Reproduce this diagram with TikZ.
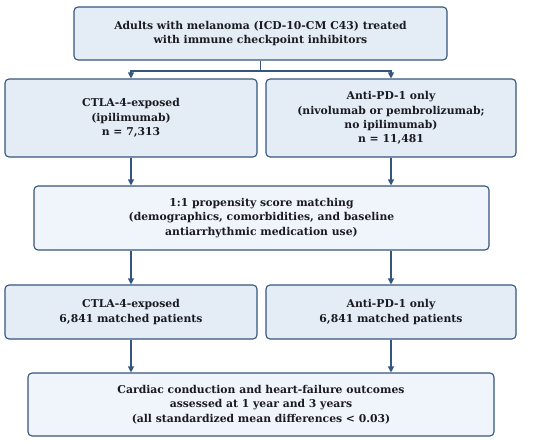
\documentclass[tikz,border=0pt]{standalone}
\usepackage{fontspec}
\setmainfont{DejaVu Serif}
\usetikzlibrary{arrows.meta}
\definecolor{edgeblue}{HTML}{34557E}
\definecolor{boxfill}{HTML}{E4ECF6}
\definecolor{lightfill}{HTML}{F0F5FB}
\definecolor{txt}{HTML}{1A1A20}
\tikzset{
  flowbox/.style={draw=edgeblue, line width=1.1pt, rounded corners=4pt, fill=boxfill,
    align=center, font=\fontsize{10.8}{14.4}\selectfont\bfseries, text=txt, inner sep=0pt},
  arr/.style={draw=edgeblue, line width=1.1pt, -{Triangle[width=6pt,length=6pt]}},
  ln/.style={draw=edgeblue, line width=1.1pt}
}
\begin{document}
\begin{tikzpicture}[x=1pt,y=-1pt]
\useasboundingbox (0,0) rectangle (550,442);
\node[flowbox, minimum width=373pt, minimum height=53pt] (top) at (260.5,33.5)
  {Adults with melanoma (ICD-10-CM C43) treated\\with immune checkpoint inhibitors};
\node[flowbox, minimum width=252pt, minimum height=78pt] (ctla) at (131,118)
  {CTLA-4-exposed\\(ipilimumab)\\n = 7,313};
\node[flowbox, minimum width=250pt, minimum height=78pt] (pd1) at (391,118)
  {Anti-PD-1 only\\(nivolumab or pembrolizumab;\\no ipilimumab)\\n = 11,481};
\node[flowbox, fill=lightfill, minimum width=455pt, minimum height=64pt] (psm) at (261.5,218)
  {1:1 propensity score matching\\(demographics, comorbidities, and baseline\\antiarrhythmic medication use)};
\node[flowbox, minimum width=252pt, minimum height=54pt] (mctla) at (131,312)
  {CTLA-4-exposed\\6,841 matched patients};
\node[flowbox, minimum width=250pt, minimum height=54pt] (mpd1) at (391,312)
  {Anti-PD-1 only\\6,841 matched patients};
\node[flowbox, fill=lightfill, minimum width=466pt, minimum height=63pt] (out) at (261,404.5)
  {Cardiac conduction and heart-failure outcomes\\assessed at 1 year and 3 years\\(all standardized mean differences < 0.03)};
\coordinate (split) at (top.south |- 0,71);
\draw[ln] (top.south) -- (split);
\draw[arr] (split) -| (ctla.north);
\draw[arr] (split) -| (pd1.north);
\draw[arr] (ctla.south) -- (ctla.south |- psm.north);
\draw[arr] (pd1.south) -- (pd1.south |- psm.north);
\draw[arr] (ctla.south |- psm.south) -- (mctla.north);
\draw[arr] (pd1.south |- psm.south) -- (mpd1.north);
\draw[arr] (mctla.south) -- (mctla.south |- out.north);
\draw[arr] (mpd1.south) -- (mpd1.south |- out.north);
\end{tikzpicture}
\end{document}
